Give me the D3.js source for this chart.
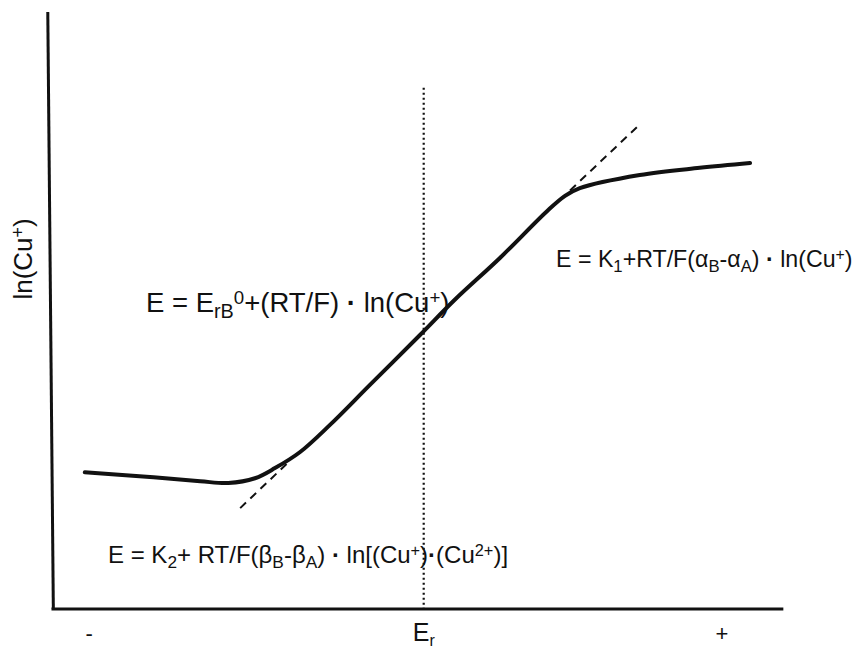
<!DOCTYPE html>
<html>
<head>
<meta charset="utf-8">
<script src="https://cdn.jsdelivr.net/npm/d3@7"></script>
<style>
  html, body { margin: 0; padding: 0; background: #fff; }
  svg { display: block; font-family: "Liberation Sans", Arial, Helvetica, sans-serif; }
</style>
</head>
<body>
<script>
// Schematic potential curve: ln(Cu+) against E (arbitrary units 0–100)
const curveX = [4.7, 13.5, 20.3, 24.1, 27.7, 30.4, 33.8, 37.8, 43.2, 50.0, 54.7, 60.8, 67.3, 69.6, 71.6, 79.7, 87.8, 94.6];
const curveY = [22.9, 22.1, 21.4, 21.1, 21.9, 23.6, 26.3, 30.8, 37.5, 45.9, 51.8, 58.8, 66.8, 69.2, 70.5, 72.7, 73.9, 74.7];

// Tangent (asymptote) segments at both knees
const tangentLowX = [25.7, 32.4];
const tangentLowY = [16.9, 24.8];
const tangentHighX = [68.9, 79.3];
const tangentHighY = [68.5, 80.7];

// Reference potential E_r and its vertical marker
const erX = 50.5;
const erTopY = 87.3;

// Axis tick labels (position in E units)
const tickPos = [5.3, 50.5, 90.8];
const tickText = ["-", "E", "+"];

const W = 864, H = 651;
const x = d3.scaleLinear().domain([0, 100]).range([50, 790]);
const y = d3.scaleLinear().domain([0, 100]).range([609, 12]);

const svg = d3.select("body").append("svg").attr("width", W).attr("height", H);

// Axes (plain lines, no numeric ticks)
svg.append("line")
  .attr("x1", x(-0.3)).attr("y1", y(100))
  .attr("x2", x(0.45)).attr("y2", y(0))
  .attr("stroke", "#111").attr("stroke-width", 3);
svg.append("line")
  .attr("x1", x(0.2)).attr("y1", y(0))
  .attr("x2", x(99.1)).attr("y2", y(0))
  .attr("stroke", "#111").attr("stroke-width", 3.2);

// Vertical dotted marker at E_r
svg.append("line")
  .attr("x1", x(erX)).attr("x2", x(erX))
  .attr("y1", y(erTopY)).attr("y2", y(0))
  .attr("stroke", "#111").attr("stroke-width", 2.2)
  .attr("stroke-dasharray", "2,3");

// Dashed tangents
const seg = d3.line().x(d => x(d[0])).y(d => y(d[1]));
[[tangentLowX, tangentLowY], [tangentHighX, tangentHighY]].forEach(([tx, ty]) => {
  svg.append("path")
    .attr("d", seg(d3.zip(tx, ty)))
    .attr("fill", "none").attr("stroke", "#111")
    .attr("stroke-width", 2).attr("stroke-dasharray", "8,6");
});

// Main curve
const curve = d3.line().x(d => x(d[0])).y(d => y(d[1])).curve(d3.curveCatmullRom.alpha(0.5));
svg.append("path")
  .attr("d", curve(d3.zip(curveX, curveY)))
  .attr("fill", "none").attr("stroke", "#111")
  .attr("stroke-width", 4).attr("stroke-linejoin", "round").attr("stroke-linecap", "round");

// Helper: text made of runs with optional sub/superscripts
function richText(parent, px, py, size, runs, attrs) {
  const t = parent.append("text").attr("x", px).attr("y", py)
    .attr("font-size", size).attr("fill", "#111");
  if (attrs) Object.entries(attrs).forEach(([k, v]) => t.attr(k, v));
  runs.forEach(r => {
    const [s, kind] = Array.isArray(r) ? r : [r, null];
    const ts = t.append("tspan").text(s);
    if (kind === "sub") ts.attr("font-size", size * 0.72).attr("baseline-shift", "-28%");
    if (kind === "sup") ts.attr("font-size", size * 0.68).attr("baseline-shift", "42%");
    if (kind === "dot") ts.attr("font-weight", "bold");
  });
  return t;
}

// Tick labels
tickText.forEach((s, i) => {
  const t = svg.append("text")
    .attr("x", x(tickPos[i])).attr("y", 641)
    .attr("text-anchor", "middle").attr("font-size", s === "E" ? 25 : 22).attr("fill", "#111")
    .text(s);
  if (s === "E") t.append("tspan").text("r").attr("font-size", 16).attr("baseline-shift", "-30%");
});

// Y-axis title
richText(svg, 0, 0, 26, ["ln(Cu", ["+", "sup"], ")"], {
  "text-anchor": "middle",
  "transform": `translate(32,${259}) rotate(-90)`
});

// Equations for each regime
richText(svg, 146, 312, 27.5, [
  "E = E", ["rB", "sub"], ["0", "sup"], "+(RT/F) ", ["\u00b7", "dot"], " ln(Cu", ["+", "sup"], ")"
]);

richText(svg, 556, 267, 23.2, [
  "E = K", ["1", "sub"], "+RT/F(\u03b1", ["B", "sub"], "-\u03b1", ["A", "sub"], ") ", ["\u00b7", "dot"], " ln(Cu", ["+", "sup"], ")"
]);

richText(svg, 108, 563, 24, [
  "E = K", ["2", "sub"], "+ RT/F(\u03b2", ["B", "sub"], "-\u03b2", ["A", "sub"], ") ", ["\u00b7", "dot"], " ln[(Cu", ["+", "sup"], ")", ["\u00b7", "dot"], "(Cu", ["2+", "sup"], ")]"
]);
</script>
</body>
</html>
